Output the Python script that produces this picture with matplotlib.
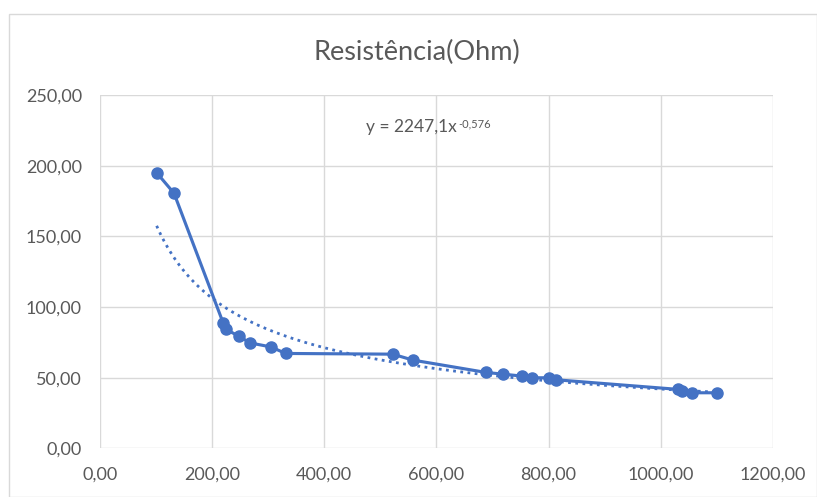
import numpy as np
import matplotlib
matplotlib.use("Agg")
from matplotlib import pyplot as plt
from matplotlib.ticker import FuncFormatter, MultipleLocator
from matplotlib.patches import Rectangle

# measured points
x_vals = [101, 132, 220, 224, 248, 267, 305, 331, 522, 558,
          688, 718, 752, 770, 800, 813, 1031, 1038, 1056, 1101]
r_vals = [195.0, 180.5, 88.4, 84.3, 79.4, 74.7, 71.8, 67.2, 66.7, 62.5,
          53.8, 52.6, 51.2, 50.0, 50.0, 48.6, 41.8, 40.6, 39.4, 39.4]

# power trendline given on the chart
coef_a = 2247.1
coef_b = -0.576

title = "Resistência(Ohm)"
blue = "#4472C4"
grey = "#595959"

plt.rcParams['font.family'] = ['Lato', 'DejaVu Sans']

fig = plt.figure(figsize=(8.17, 4.97), dpi=100)
fig.patches.append(Rectangle((9 / 817, 0), 1 - 9 / 817, 1 - 14 / 497, transform=fig.transFigure,
                             fill=False, edgecolor="#d9d9d9", lw=1))
ax = fig.add_axes([0.1224, 0.0976, 0.946 - 0.1224, 0.809 - 0.0976])

ax.plot(x_vals, r_vals, color=blue, lw=2.25, marker='o', ms=8, zorder=3)

xt = np.linspace(min(x_vals), max(x_vals), 300)
ax.plot(xt, coef_a * xt ** coef_b, color=blue, lw=2, linestyle=(0, (1, 1.6)), zorder=2)

ax.set_xlim(0, 1200)
ax.set_ylim(0, 250)
ax.xaxis.set_major_locator(MultipleLocator(200))
ax.yaxis.set_major_locator(MultipleLocator(50))
fmt = FuncFormatter(lambda v, p: ("%.2f" % v).replace('.', ','))
ax.xaxis.set_major_formatter(fmt)
ax.yaxis.set_major_formatter(fmt)
ax.grid(True, color="#d9d9d9", lw=1)
ax.set_axisbelow(True)
for s in ax.spines.values():
    s.set_visible(False)
ax.tick_params(length=0, labelsize=13, labelcolor=grey, pad=13)

fig.text(0.51, 0.879, title, fontsize=19.5, color=grey, ha='center', va='baseline')

eq = ax.text(474, 227, "y = 2247,1x", fontsize=12.5, color=grey, va='center')
ax.annotate("-0,576", xy=(1, 0.72), xycoords=eq, xytext=(1, 0), textcoords='offset points',
            fontsize=8, color=grey, va='center')

fig.savefig("out.png", dpi=100)
